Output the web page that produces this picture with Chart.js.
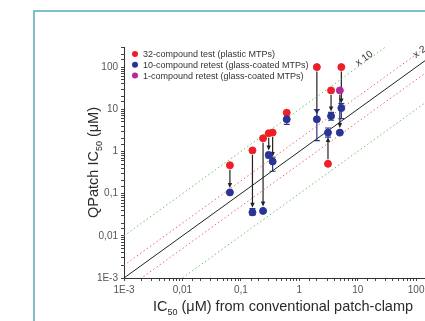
<!DOCTYPE html>
<html>
<head>
<meta charset="utf-8">
<script src="https://cdn.jsdelivr.net/npm/chart.js@4.4.0/dist/chart.umd.min.js"></script>
<style>
  body { margin: 0; background: #fff; overflow: hidden; width: 425px; height: 321px; position: relative; }
  #frame { position: absolute; left: 33px; top: 10px; width: 520px; height: 400px; border: 2px solid #7dbfca; box-sizing: border-box; }
  #myChart { position: absolute; left: 0; top: 0; }
</style>
</head>
<body>
<div id="frame"></div>
<canvas id="myChart" width="470" height="321"></canvas>
<script>
// conventional patch-clamp IC50 (uM) for each compound
const pairX = [0.065, 0.158, 0.24, 0.30, 0.35, 0.61, 2.0, 3.1, 3.5, 5.25];
// first QPatch test (plastic plates)
const redY = [0.47, 1.06, 2.05, 2.7, 2.8, 8.3, 100, 0.51, 28, 100];
// retest on glass-coated plates
const blueY = [0.107, 0.036, 0.039, 0.82, 0.58, 5.8, 5.8, 2.8, 6.9, 10.7];
const blueLow = [null, 0.031, null, 0.70, 0.34, 4.4, 1.8, 2.2, 5.5, 6.0];
const blueHigh = [null, 0.044, null, 0.95, 0.73, 6.2, 9.8, 3.6, 8.5, 13.7];
// the single compound retested, and its retest value
const magentaX = [4.95];
const magentaY = [28];
const magentaRetestY = [2.8];

const factors = [1, 2, 0.5, 10, 0.1];
const axisMin = 1e-3, axisMax = 300;
const tickNames = {'-3': '1E-3', '-2': '0,01', '-1': '0,1', '0': '1', '1': '10', '2': '100'};

const RED = 'rgb(236,32,38)', BLUE = 'rgb(42,52,148)', MAGENTA = 'rgb(178,42,150)';

const pts = (xs, ys) => xs.map((x, i) => ({x: x, y: ys[i]}));

function tickLabel(v) {
  const l = Math.log10(v);
  const r = Math.round(l);
  if (Math.abs(l - r) < 1e-6 && tickNames[r] !== undefined) return tickNames[r];
  return '';
}

const lineSets = factors.map(f => ({
  label: 'x' + f,
  type: 'line',
  data: [{x: axisMin, y: axisMin * f}, {x: axisMax, y: axisMax * f}],
  borderColor: f === 1 ? '#222' : (f === 2 || f === 0.5 ? 'rgba(240,90,90,0.9)' : 'rgba(90,190,90,0.9)'),
  borderWidth: 1,
  borderDash: f === 1 ? [] : [1.5, 2.5],
  pointRadius: 0,
  fill: false,
  order: 10
}));

// arrows, error bars, legend, titles
const extras = {
  id: 'extras',
  beforeDatasetsDraw(chart) {
    const {ctx, scales: {x, y}} = chart;
    ctx.save();
    ctx.strokeStyle = '#222';
    ctx.fillStyle = '#222';
    ctx.lineWidth = 1.2;
    const arrow = (xv, y1v, y2v) => {
      const px = x.getPixelForValue(xv);
      const p1 = y.getPixelForValue(y1v), p2 = y.getPixelForValue(y2v);
      if (Math.abs(p2 - p1) < 14) return;
      const dir = p2 > p1 ? 1 : -1;
      const a = p1 + dir * 4.5, b = p2 - dir * 4.5;
      ctx.beginPath();
      ctx.moveTo(px, a);
      ctx.lineTo(px, b - dir * 4);
      ctx.stroke();
      ctx.beginPath();
      ctx.moveTo(px, b);
      ctx.lineTo(px - 2.2, b - dir * 5);
      ctx.lineTo(px + 2.2, b - dir * 5);
      ctx.closePath();
      ctx.fill();
    };
    pairX.forEach((xv, i) => arrow(xv, redY[i], blueY[i]));
    magentaX.forEach((xv, i) => arrow(xv, magentaY[i], magentaRetestY[i]));

    ctx.strokeStyle = BLUE;
    ctx.lineWidth = 1.2;
    pairX.forEach((xv, i) => {
      if (blueLow[i] == null) return;
      const px = x.getPixelForValue(xv);
      const lo = y.getPixelForValue(blueLow[i]), hi = y.getPixelForValue(blueHigh[i]);
      ctx.beginPath();
      ctx.moveTo(px, lo); ctx.lineTo(px, hi);
      ctx.moveTo(px - 3, lo); ctx.lineTo(px + 3, lo);
      ctx.moveTo(px - 3, hi); ctx.lineTo(px + 3, hi);
      ctx.stroke();
    });
    ctx.restore();
  },
  afterDraw(chart) {
    const {ctx, chartArea, scales: {x, y}} = chart;
    ctx.save();
    // legend
    const legend = [
      [RED, '32-compound test (plastic MTPs)'],
      [BLUE, '10-compound retest (glass-coated MTPs)'],
      [MAGENTA, '1-compound retest (glass-coated MTPs)']
    ];
    ctx.font = '9px "Liberation Sans", Arial, sans-serif';
    ctx.textBaseline = 'middle';
    legend.forEach(([c, t], i) => {
      const ly = 54 + i * 10.8;
      ctx.fillStyle = c;
      ctx.beginPath();
      ctx.arc(135, ly, 3, 0, Math.PI * 2);
      ctx.fill();
      ctx.fillStyle = '#333';
      ctx.fillText(t, 143, ly + 0.5);
    });

    // ratio labels along the dotted lines
    const ang = Math.atan2(y.getPixelForValue(10) - y.getPixelForValue(1), x.getPixelForValue(10) - x.getPixelForValue(1));
    ctx.font = '10px "Liberation Sans", Arial, sans-serif';
    ctx.fillStyle = '#333';
    ctx.textAlign = 'center';
    [['x 10', 13, 160], ['x 2', 115, 228]].forEach(([t, xv, yv]) => {
      ctx.save();
      ctx.translate(x.getPixelForValue(xv), y.getPixelForValue(yv));
      ctx.rotate(ang);
      ctx.fillText(t, 0, 0);
      ctx.restore();
    });

    // axis titles with subscript
    const titleParts = (before, after) => [['14.5px', before, 0], ['9px', '50', 4], ['14.5px', after, 0]];
    const drawTitle = (parts) => {
      let w = 0;
      parts.forEach(([s, t]) => { ctx.font = s + ' "Liberation Sans", Arial, sans-serif'; w += ctx.measureText(t).width; });
      let cx = -w / 2;
      parts.forEach(([s, t, dy]) => {
        ctx.font = s + ' "Liberation Sans", Arial, sans-serif';
        ctx.fillText(t, cx, dy);
        cx += ctx.measureText(t).width;
      });
    };
    ctx.fillStyle = '#2a2a2a';
    ctx.textAlign = 'left';
    ctx.textBaseline = 'alphabetic';
    ctx.save();
    ctx.translate((chartArea.left + chartArea.right) / 2 - 1, 311);
    drawTitle(titleParts('IC', ' (\u03bcM) from conventional patch-clamp'));
    ctx.restore();
    ctx.save();
    ctx.translate(98, (chartArea.top + chartArea.bottom) / 2);
    ctx.rotate(-Math.PI / 2);
    drawTitle(titleParts('QPatch IC', ' (\u03bcM)'));
    ctx.restore();
    ctx.restore();
  }
};

const scaleOpts = (isX) => ({
  type: 'logarithmic',
  min: axisMin,
  max: axisMax,
  border: {color: '#333', width: 1},
  grid: {drawOnChartArea: false, drawTicks: true, tickLength: 3, color: '#444'},
  ticks: {
    autoSkip: false,
    maxRotation: 0,
    padding: 3,
    color: '#555',
    font: {family: '"Liberation Sans", Arial, sans-serif', size: 10},
    callback: (v) => tickLabel(v)
  },
  afterFit(scale) {
    if (isX) scale.height = 43; else scale.width = 124;
  }
});

const ctx = document.getElementById('myChart').getContext('2d');
const chart = new Chart(ctx, {
  type: 'scatter',
  data: {
    datasets: [
      {label: '1-compound retest', data: pts(magentaX, magentaY), backgroundColor: MAGENTA, borderColor: MAGENTA, pointRadius: 3.5, order: 1},
      {label: '10-compound retest', data: pts(pairX, blueY).concat(pts(magentaX, magentaRetestY)), backgroundColor: BLUE, borderColor: BLUE, pointRadius: 3.5, order: 2},
      {label: '32-compound test', data: pts(pairX, redY), backgroundColor: RED, borderColor: RED, pointRadius: 3.5, order: 3}
    ].concat(lineSets)
  },
  options: {
    responsive: false,
    animation: false,
    layout: {padding: {left: 0, top: 47, right: 26, bottom: 0}},
    plugins: {legend: {display: false}, tooltip: {enabled: false}},
    scales: {x: scaleOpts(true), y: scaleOpts(false)}
  },
  plugins: [extras]
});
</script>
</body>
</html>
